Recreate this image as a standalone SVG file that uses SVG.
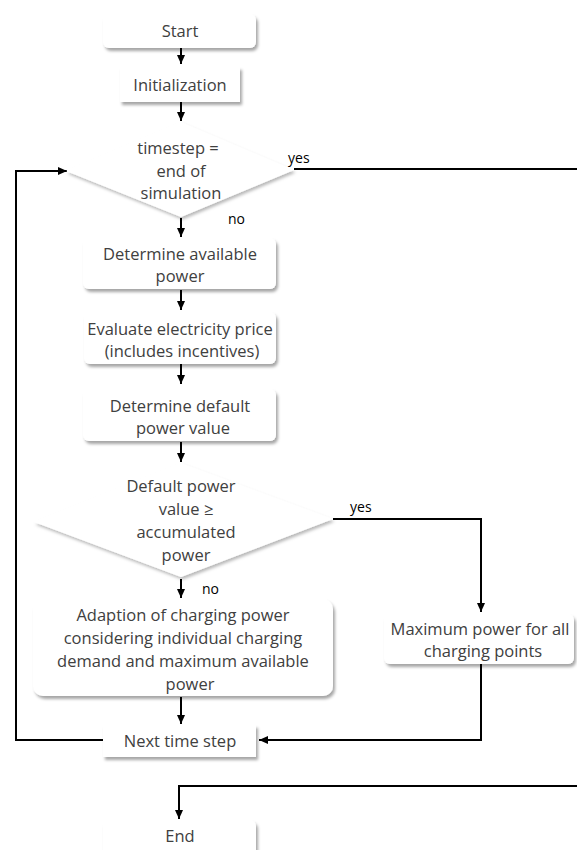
<svg xmlns="http://www.w3.org/2000/svg" width="577" height="850" viewBox="0 0 577 850">
<defs>
<filter id="sh" x="-10%" y="-20%" width="130%" height="160%">
<feDropShadow dx="2" dy="3" stdDeviation="1.6" flood-color="#000" flood-opacity="0.35"/>
</filter>
<filter id="shd" x="-10%" y="-10%" width="130%" height="130%">
<feDropShadow dx="1.5" dy="2.5" stdDeviation="1.5" flood-color="#000" flood-opacity="0.28"/>
</filter>
<marker id="ah" markerWidth="10" markerHeight="10" refX="9" refY="5" orient="auto" markerUnits="userSpaceOnUse">
<path d="M0,1 L9,5 L0,9 Z" fill="#000"/>
</marker>
</defs>
<style>
.box{fill:#fff;filter:url(#sh)}
.dia{fill:#fff;filter:url(#shd)}
.t{font-family:"Open Sans","DejaVu Sans",sans-serif;font-size:16.5px;fill:#404040;text-anchor:middle}
.l{font-family:"Open Sans","DejaVu Sans",sans-serif;font-size:14px;fill:#000}
.c{fill:none;stroke:#000;stroke-width:2}
.a{fill:none;stroke:#000;stroke-width:2;marker-end:url(#ah)}
</style>
<rect width="577" height="850" fill="#fff"/>
<g id="connectors">
<line class="a" x1="181" y1="48" x2="181" y2="64"/>
<line class="a" x1="181" y1="102" x2="181" y2="121"/>
<polyline class="c" points="294,169 577,169"/>
<line class="a" x1="181" y1="218" x2="181" y2="237"/>
<line class="a" x1="181" y1="290" x2="181" y2="310"/>
<line class="a" x1="181" y1="364" x2="181" y2="384"/>
<line class="a" x1="181" y1="442" x2="181" y2="462"/>
<polyline class="a" points="333,519 481,519 481,612"/>
<line class="a" x1="181" y1="579" x2="181" y2="598"/>
<line class="a" x1="181" y1="697" x2="181" y2="724"/>
<polyline class="a" points="481,664 481,740 259,740"/>
<polyline class="a" points="103,740 16,740 16,171 67,171"/>
<polyline class="a" points="577,786 179,786 179,819"/>
</g>
<g id="start"><rect class="box" x="103" y="14" width="153" height="34" rx="6"/><text class="t" x="180" y="37">Start</text></g>
<g id="init"><rect class="box" x="120" y="67" width="120" height="35"/><text class="t" x="180" y="91">Initialization</text></g>
<g id="dec1"><polygon class="dia" points="181,122 294,170 181,217 66,171"/><text class="t" x="178" y="154">timestep =</text><text class="t" x="181" y="177">end of</text><text class="t" x="181" y="199">simulation</text></g>
<text class="l" x="288" y="163">yes</text>
<text class="l" x="228" y="224">no</text>
<g id="avail"><rect class="box" x="83" y="238" width="193" height="51" rx="6"/><text class="t" x="180" y="260">Determine available</text><text class="t" x="180" y="282">power</text></g>
<g id="price"><rect class="box" x="84" y="312" width="192" height="52" rx="6"/><text class="t" x="180" y="335">Evaluate electricity price</text><text class="t" x="182" y="357">(includes incentives)</text></g>
<g id="default"><rect class="box" x="83" y="389" width="193" height="52" rx="6"/><text class="t" x="180" y="412">Determine default</text><text class="t" x="183" y="434">power value</text></g>
<g id="dec2"><polygon class="dia" points="181,463 333,519 181,577 34,522"/><text class="t" x="181" y="492">Default power</text><text class="t" x="186" y="515">value ≥</text><text class="t" x="186" y="538">accumulated</text><text class="t" x="186" y="561">power</text></g>
<text class="l" x="350" y="512">yes</text>
<text class="l" x="202" y="594">no</text>
<g id="adapt"><rect class="box" x="33" y="599" width="300" height="97" rx="10"/><text class="t" x="183" y="621">Adaption of charging power</text><text class="t" x="183" y="644">considering individual charging</text><text class="t" x="183" y="667">demand and maximum available</text><text class="t" x="190" y="690">power</text></g>
<g id="maxp"><rect class="box" x="384" y="614" width="190" height="50" rx="6"/><text class="t" x="480" y="635">Maximum power for all</text><text class="t" x="483" y="657">charging points</text></g>
<g id="next"><rect class="box" x="103" y="725" width="153" height="32"/><text class="t" x="180" y="747">Next time step</text></g>
<g id="end"><rect class="box" x="103" y="820" width="153" height="40" rx="6"/><text class="t" x="180" y="842">End</text></g>
</svg>
